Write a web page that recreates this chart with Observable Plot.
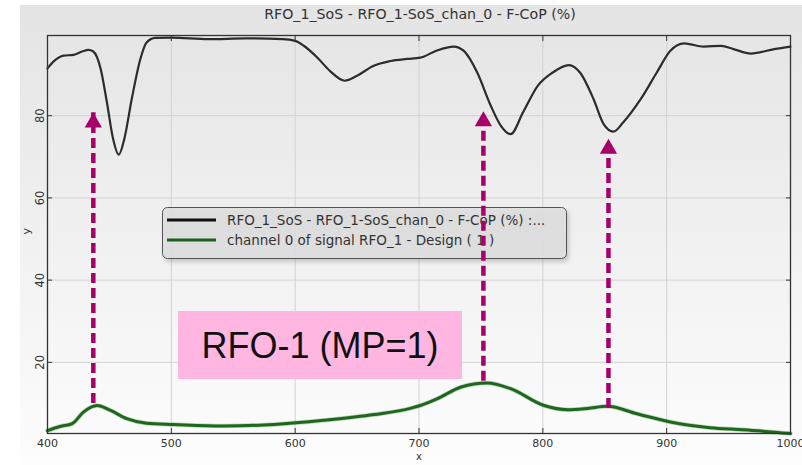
<!DOCTYPE html>
<html>
<head>
<meta charset="utf-8">
<script src="https://cdn.jsdelivr.net/npm/d3@7"></script>
<script src="https://cdn.jsdelivr.net/npm/@observablehq/plot@0.6"></script>
<style>
  body { margin: 0; background: #fff; font-family: "DejaVu Sans", sans-serif; }
  #panel { position: relative; width: 802px; height: 465px; overflow: hidden; }
  #bg { position: absolute; left: 20px; top: 5px; right: 0; bottom: 0;
        background: linear-gradient(#e4e4e4, #f3f3f3 60%, #fdfdfd); }
  #title { position: relative; height: 28px; width: 840px; text-align: center;
           font-size: 14.2px; line-height: 28px; color: #333; }
  #chart { position: relative; }
  #chart svg { display: block; }
</style>
</head>
<body>
<div id="panel">
  <div id="bg"></div>
  <div id="title">RFO_1_SoS - RFO_1-SoS_chan_0 - F-CoP (%)</div>
  <div id="chart"></div>
</div>
<script>
// Measured F-CoP (%) spectrum
const copX = [400, 405, 413, 421, 428, 433, 437, 443, 448, 453, 457.5, 462, 468, 475, 480, 487, 500, 530, 560, 590, 600, 607, 618, 628, 640, 650, 663, 677, 690, 701, 714, 728, 736, 747, 758, 766, 774, 784, 796, 808, 821, 830, 841, 849, 857, 865, 879, 892, 903, 914, 930, 944, 954, 968, 987, 1000];
const copY = [91.5, 93.2, 94.6, 94.8, 95.6, 96.0, 95.6, 91.3, 83.2, 74.3, 70.5, 74.3, 84.0, 93.8, 97.8, 98.9, 99.0, 98.6, 98.8, 98.6, 98.2, 97.0, 94.1, 90.9, 88.5, 89.7, 92.1, 93.3, 93.8, 94.1, 95.8, 96.8, 95.8, 90.5, 82.4, 77.6, 75.5, 80.8, 87.3, 90.5, 92.3, 90.5, 84.0, 78.0, 76.1, 78.4, 84.0, 90.5, 95.8, 97.6, 96.8, 97.0, 96.2, 95.1, 96.2, 96.8];

// Channel 0 of signal RFO_1 (design)
const chanX = [400, 410, 420, 429, 440, 451, 464, 480, 502, 542, 583, 623, 664, 693, 701, 715, 734, 755, 774, 801, 820, 836, 852, 876, 903, 935, 962, 1000];
const chanY = [3.4, 4.4, 5.1, 7.9, 9.5, 8.3, 6.3, 5.2, 4.9, 4.5, 4.9, 5.9, 7.3, 8.8, 9.5, 11.2, 14.0, 15.0, 13.6, 9.5, 8.5, 8.8, 9.3, 7.5, 5.5, 4.1, 3.6, 2.7];

// Annotation arrows: position, dashed-shaft start and tip
const arrowX = [437, 752, 853];
const arrowFrom = [13.4, 18.8, 12.2];
const arrowTo = [80.7, 81.0, 74.3];

const xTicks = [400, 500, 600, 700, 800, 900, 1000];
const yTicks = [20, 40, 60, 80];

const legendLabels = [
  "RFO_1_SoS - RFO_1-SoS_chan_0 - F-CoP (%) :...",
  "channel 0 of signal RFO_1 - Design ( 1 )"
];
const legendColors = ["#111111", "#1b5e1b"];
const noteText = "RFO-1 (MP=1)";

const cop = copX.map((x, i) => ({x, y: copY[i]}));
const chan = chanX.map((x, i) => ({x, y: chanY[i]}));
const arrows = arrowX.map((x, i) => ({x, y1: arrowFrom[i], y2: arrowTo[i]}));

const arrowColor = "#a8006a";
const blank = () => "";

const chart = Plot.plot({
  width: 802,
  height: 437,
  marginTop: 7,
  marginBottom: 32,
  marginLeft: 47,
  marginRight: 12,
  style: {background: "transparent", fontFamily: "DejaVu Sans", fontSize: "12px", color: "#333", overflow: "visible"},
  x: {domain: [400, 1000]},
  y: {domain: [2.7, 99.5]},
  marks: [
    Plot.gridX(xTicks.slice(1, -1), {stroke: "#d2d2d2", strokeOpacity: 1}),
    Plot.gridY(yTicks, {stroke: "#d2d2d2", strokeOpacity: 1}),
    Plot.line(cop, {x: "x", y: "y", curve: "monotone-x", stroke: "#2c2c2c", strokeWidth: 2.2}),
    Plot.line(chan, {x: "x", y: "y", curve: "monotone-x", stroke: "#1d681d", strokeWidth: 4.5, strokeOpacity: 0.25}),
    Plot.line(chan, {x: "x", y: "y", curve: "monotone-x", stroke: "#1d681d", strokeWidth: 3}),
    Plot.frame({stroke: "#333", strokeWidth: 1.3}),
    Plot.axisX(xTicks, {anchor: "bottom", tickSize: -5, tickPadding: 11, tickFormat: d => String(d), label: null, fontSize: 11}),
    Plot.axisX(xTicks, {anchor: "top", tickSize: -5, tickFormat: blank, label: null}),
    Plot.axisY(yTicks, {anchor: "left", tickSize: -5, tickPadding: 9, tickRotate: -90, label: null, fontSize: 11.5}),
    Plot.axisY(yTicks, {anchor: "right", tickSize: -5, tickFormat: blank, label: null}),
    Plot.text(["y"], {frameAnchor: "left", dx: -21, rotate: -90, fontSize: 11, fill: "#333"}),
    Plot.text(["x"], {frameAnchor: "bottom", dy: 26.5, fontSize: 10, fill: "#333"}),
    Plot.ruleX(arrows, {x: "x", y1: "y1", y2: "y2", stroke: arrowColor, strokeWidth: 4.5, strokeDasharray: "10,5", insetTop: 14}),
    Plot.dot(arrows, {x: "x", y: "y2", symbol: "triangle", r: 6.4, fill: arrowColor, stroke: "none", dy: 9.7})
  ]
});

document.getElementById("chart").appendChild(chart);

// Legend box and note label, placed beneath the arrows
const svg = d3.select(chart);
const arrowLayer = chart.querySelector('g[aria-label="rule"]');

const defs = svg.insert("defs", ":first-child");
defs.append("filter").attr("id", "soft").attr("x", "-10%").attr("y", "-30%").attr("width", "120%").attr("height", "160%")
  .append("feGaussianBlur").attr("stdDeviation", 2);

const note = svg.insert("g", () => arrowLayer);
note.append("rect").attr("x", 178).attr("y", 283).attr("width", 284).attr("height", 68).attr("fill", "#ffb7e2");
note.append("text").attr("x", 320).attr("y", 317).attr("text-anchor", "middle").attr("dominant-baseline", "central")
  .attr("font-family", "Liberation Sans, Arial, sans-serif").attr("font-size", 36).attr("fill", "#111").text(noteText);

const legend = svg.insert("g", () => arrowLayer).attr("transform", "translate(162,179)");
legend.append("rect").attr("x", 2).attr("y", 3).attr("width", 405).attr("height", 52).attr("rx", 5)
  .attr("fill", "#000").attr("opacity", 0.18).attr("filter", "url(#soft)");
legend.append("rect").attr("x", 0.5).attr("y", 0.5).attr("width", 404).attr("height", 51).attr("rx", 5)
  .attr("fill", "#e0e0e0").attr("fill-opacity", 0.92).attr("stroke", "#555").attr("stroke-width", 1);
legendLabels.forEach((label, i) => {
  const ly = 13 + i * 20;
  legend.append("line").attr("x1", 5).attr("x2", 54).attr("y1", ly).attr("y2", ly)
    .attr("stroke", legendColors[i]).attr("stroke-width", 3);
  legend.append("text").attr("x", 65).attr("y", ly).attr("text-anchor", "start").attr("dominant-baseline", "central")
    .attr("font-size", 13.5).attr("fill", "#333").text(label);
});
</script>
</body>
</html>
